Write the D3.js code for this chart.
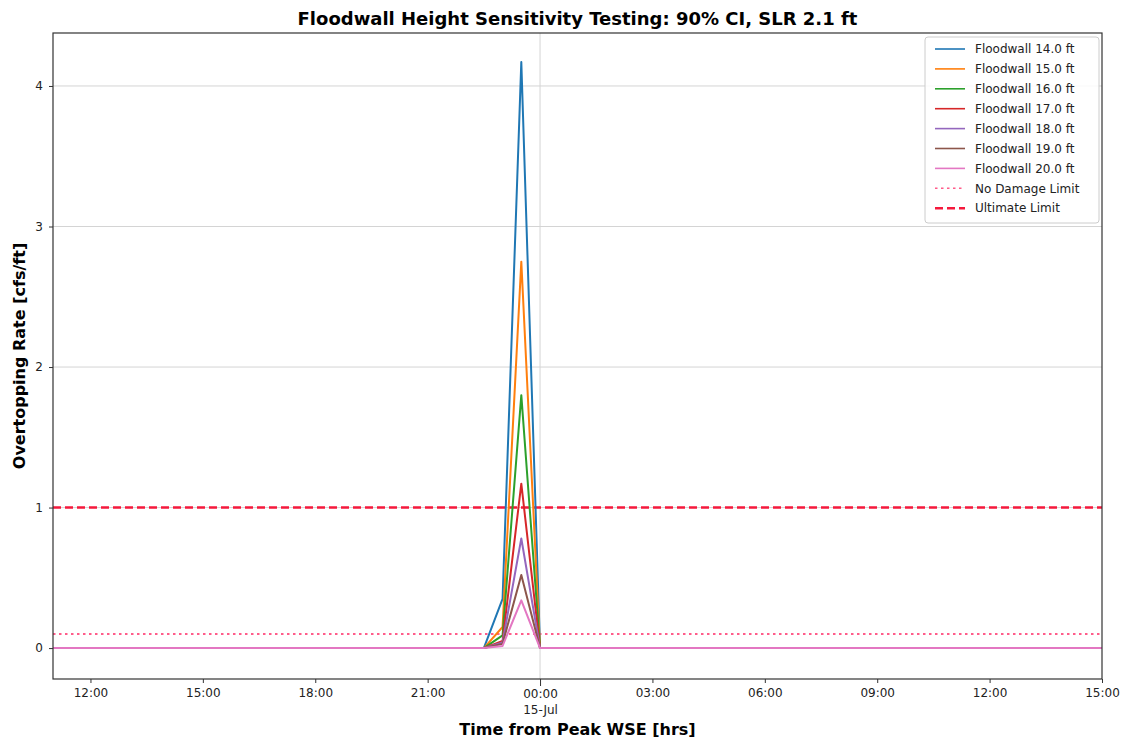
<!DOCTYPE html>
<html lang="en">
<head>
  <meta charset="UTF-8">
  <title>Floodwall Height Sensitivity Testing</title>
  <script src="https://d3js.org/d3.v7.min.js"></script>
  <style>
    body { margin: 0; background: #fff; font-family: "DejaVu Sans", sans-serif; }
    .tick text { font-family: "DejaVu Sans", sans-serif; font-size: 12px; fill: #222; }
  </style>
</head>
<body>
<svg width="1121" height="740"></svg>
<script>
  // time stamps of the hydrograph (half-hourly around the peak)
  const times = ["2020-07-14T11:00", "2020-07-14T22:30", "2020-07-14T23:00",
                 "2020-07-14T23:30", "2020-07-15T00:00", "2020-07-15T15:00"];
  const wallHeights = ["14.0", "15.0", "16.0", "17.0", "18.0", "19.0", "20.0"];
  const rate14 = [0, 0, 0.35, 4.17, 0, 0];
  const rate15 = [0, 0, 0.15, 2.75, 0, 0];
  const rate16 = [0, 0, 0.09, 1.80, 0, 0];
  const rate17 = [0, 0, 0.05, 1.17, 0, 0];
  const rate18 = [0, 0, 0.04, 0.78, 0, 0];
  const rate19 = [0, 0, 0.03, 0.52, 0, 0];
  const rate20 = [0, 0, 0.015, 0.34, 0, 0];
  const noDamageLimit = 0.1;
  const ultimateLimit = 1.0;
  const yTicks = [0, 1, 2, 3, 4];

  const series = [rate14, rate15, rate16, rate17, rate18, rate19, rate20];
  const colors = ["#1f77b4", "#ff7f0e", "#2ca02c", "#d62728", "#9467bd", "#8c564b", "#e377c2"];

  const margin = {top: 33, right: 19, bottom: 61, left: 53},
        width = 1121 - margin.left - margin.right,
        height = 740 - margin.top - margin.bottom;

  const parse = d3.timeParse("%Y-%m-%dT%H:%M");
  const t = times.map(parse);

  const svg = d3.select("svg");
  const g = svg.append("g").attr("transform", `translate(${margin.left},${margin.top})`);

  const x = d3.scaleTime()
    .domain(d3.extent(t))
    .range([0, width]);

  const y = d3.scaleLinear()
    .domain([-0.22, 4.377])
    .range([height, 0]);

  // grid: horizontal at y ticks, vertical only at the day boundary
  g.append("g")
    .selectAll("line")
    .data(yTicks)
    .join("line")
    .attr("x1", 0).attr("x2", width)
    .attr("y1", d => y(d)).attr("y2", d => y(d))
    .attr("stroke", "#d4d4d4").attr("stroke-width", 1);

  const midnight = parse("2020-07-15T00:00");
  g.append("line")
    .attr("x1", x(midnight)).attr("x2", x(midnight))
    .attr("y1", 0).attr("y2", height)
    .attr("stroke", "#d4d4d4").attr("stroke-width", 1);

  // limits
  g.append("line")
    .attr("x1", 0).attr("x2", width)
    .attr("y1", y(noDamageLimit)).attr("y2", y(noDamageLimit))
    .attr("stroke", "#ff5c8a").attr("stroke-width", 2)
    .attr("stroke-dasharray", "2.5,3.5");

  g.append("line")
    .attr("x1", 0).attr("x2", width)
    .attr("y1", y(ultimateLimit)).attr("y2", y(ultimateLimit))
    .attr("stroke", "#f5193c").attr("stroke-width", 2.5)
    .attr("stroke-dasharray", "8,4");

  const line = d3.line()
    .x((d, i) => x(t[i]))
    .y(d => y(d));

  series.forEach((s, i) => {
    g.append("path")
      .datum(s)
      .attr("fill", "none")
      .attr("stroke", colors[i])
      .attr("stroke-width", 2)
      .attr("stroke-linejoin", "round")
      .attr("d", line);
  });

  // axes
  const fmt = d3.timeFormat("%H:%M");
  const xAxis = g.append("g")
    .attr("transform", `translate(0,${height})`)
    .call(d3.axisBottom(x)
      .ticks(d3.timeHour.every(3))
      .tickFormat(fmt)
      .tickSize(4)
      .tickPadding(5));
  xAxis.selectAll(".tick")
    .filter(d => d.getHours() === 0)
    .each(function(d) {
      d3.select(this).select("line").attr("y2", 7);
      d3.select(this).select("text").attr("y", 10);
      d3.select(this).append("text")
        .attr("y", 26).attr("dy", "0.71em")
        .attr("fill", "#222")
        .attr("text-anchor", "middle")
        .text(d3.timeFormat("%d-%b")(d));
    });

  const yAxis = g.append("g")
    .call(d3.axisLeft(y).tickValues(yTicks).tickFormat(d3.format("d")).tickSize(4).tickPadding(6));

  [xAxis, yAxis].forEach(a => {
    a.select(".domain").remove();
    a.selectAll("line").attr("stroke", "#333");
  });

  g.append("rect")
    .attr("width", width).attr("height", height)
    .attr("fill", "none").attr("stroke", "#333").attr("stroke-width", 1.2);

  // titles
  svg.append("text")
    .attr("x", margin.left + width / 2).attr("y", 25)
    .attr("text-anchor", "middle")
    .style("font-size", "18px").style("font-weight", "bold")
    .text("Floodwall Height Sensitivity Testing: 90% CI, SLR 2.1 ft");

  svg.append("text")
    .attr("x", margin.left + width / 2).attr("y", 735)
    .attr("text-anchor", "middle")
    .style("font-size", "16px").style("font-weight", "bold")
    .text("Time from Peak WSE [hrs]");

  svg.append("text")
    .attr("transform", "rotate(-90)")
    .attr("x", -(margin.top + height / 2)).attr("y", 25)
    .attr("text-anchor", "middle")
    .style("font-size", "16px").style("font-weight", "bold")
    .text("Overtopping Rate [cfs/ft]");

  // legend
  const legendItems = wallHeights.map((h, i) => ({label: `Floodwall ${h} ft`, color: colors[i], dash: null, w: 1.6}))
    .concat([
      {label: "No Damage Limit", color: "#ff5c8a", dash: "2.5,3.5", w: 1.6},
      {label: "Ultimate Limit", color: "#f5193c", dash: "8,4", w: 2.5}
    ]);

  const legend = svg.append("g").attr("transform", "translate(925,37)");
  legend.append("rect")
    .attr("width", 174).attr("height", 186).attr("rx", 3)
    .attr("fill", "white").attr("fill-opacity", 0.85)
    .attr("stroke", "#cccccc");

  const item = legend.selectAll(".item")
    .data(legendItems)
    .join("g")
    .attr("transform", (d, i) => `translate(0,${12 + i * 19.9})`);
  item.append("line")
    .attr("x1", 10).attr("x2", 40)
    .attr("stroke", d => d.color).attr("stroke-width", d => d.w)
    .attr("stroke-dasharray", d => d.dash);
  item.append("text")
    .attr("x", 50).attr("dy", "0.35em")
    .style("font-size", "12px").attr("fill", "#222")
    .text(d => d.label);
</script>
</body>
</html>
